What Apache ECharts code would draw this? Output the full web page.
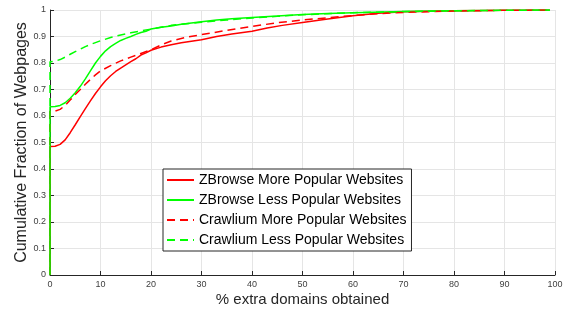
<!DOCTYPE html>
<html>
<head>
<meta charset="utf-8">
<script src="https://cdn.jsdelivr.net/npm/echarts@6/dist/echarts.min.js"></script>
<style>
  html, body { margin: 0; padding: 0; background: #fff; }
  #main { width: 566px; height: 312px; }
</style>
</head>
<body>
<div id="main"></div>
<script>
// names shown in legend
var seriesNames = [
    'ZBrowse More Popular Websites',
    'ZBrowse Less Popular Websites',
    'Crawlium More Popular Websites',
    'Crawlium Less Popular Websites'
];

// x positions (% extra domains) and CDF values
var zMoreX = [0, 0, 1, 2, 3, 4, 5, 6, 7, 8, 9, 10, 11, 12, 13, 14, 15, 16, 17, 18, 19, 20, 22, 24, 26, 28, 30, 33, 36, 40, 43, 46, 50, 55, 60, 65, 70, 75, 80, 90, 99];
var zMoreY = [0, 0.485, 0.486, 0.493, 0.51, 0.537, 0.567, 0.598, 0.628, 0.657, 0.685, 0.71, 0.733, 0.752, 0.768, 0.781, 0.793, 0.805, 0.816, 0.83, 0.838, 0.848, 0.86, 0.869, 0.876, 0.882, 0.888, 0.9, 0.909, 0.92, 0.932, 0.942, 0.953, 0.966, 0.978, 0.988, 0.993, 0.995, 0.997, 0.999, 1];

var zLessX = [0, 0, 1, 2, 3, 4, 5, 6, 7, 8, 9, 10, 11, 12, 13, 14, 15, 16, 17, 18, 19, 20, 22, 24, 26, 28, 30, 33, 36, 40, 45, 50, 55, 60, 70, 80, 90, 99];
var zLessY = [0, 0.635, 0.636, 0.64, 0.65, 0.667, 0.688, 0.712, 0.74, 0.77, 0.8, 0.825, 0.846, 0.862, 0.874, 0.885, 0.893, 0.9, 0.908, 0.915, 0.92, 0.928, 0.935, 0.94, 0.946, 0.951, 0.956, 0.962, 0.967, 0.972, 0.977, 0.983, 0.987, 0.99, 0.994, 0.997, 0.999, 1];

var cMoreX = [0, 0, 1, 2, 3, 4, 5, 6, 7, 8, 9, 10, 12, 14, 16, 18, 20, 22, 24, 27, 30, 35, 40, 45, 50, 55, 60, 65, 70, 80, 90, 99];
var cMoreY = [0, 0.617, 0.618, 0.625, 0.64, 0.66, 0.681, 0.7, 0.72, 0.738, 0.755, 0.77, 0.79, 0.808, 0.822, 0.836, 0.85, 0.868, 0.883, 0.897, 0.907, 0.923, 0.938, 0.952, 0.962, 0.971, 0.979, 0.986, 0.991, 0.996, 0.999, 1];

var cLessX = [0, 0, 1, 2, 3, 4, 5, 6, 7, 8, 9, 10, 12, 14, 16, 18, 20, 24, 28, 30, 35, 40, 45, 50, 55, 60, 70, 80, 90, 99];
var cLessY = [0, 0.805, 0.807, 0.813, 0.822, 0.833, 0.843, 0.852, 0.862, 0.87, 0.877, 0.884, 0.896, 0.906, 0.914, 0.921, 0.928, 0.942, 0.95, 0.954, 0.962, 0.97, 0.976, 0.982, 0.986, 0.99, 0.994, 0.997, 0.999, 1];

function pairs(xs, ys) {
    var out = [];
    for (let i = 0; i < xs.length; i++) {
        out.push([xs[i], ys[i]]);
    }
    return out;
}

function lineSeries(name, xs, ys, color, dashed) {
    return {
        name: name,
        type: 'line',
        data: pairs(xs, ys),
        symbol: 'none',
        showSymbol: false,
        animation: false,
        lineStyle: {
            color: color,
            width: 1.5,
            type: dashed ? [8, 5] : 'solid'
        },
        itemStyle: { color: color }
    };
}

function initEcharts() {
    var myChart = echarts.init(document.getElementById('main'));
    var font = 'Liberation Sans, Arial, Helvetica, sans-serif';

    var option = {
        backgroundColor: '#fff',
        grid: {
            left: 50,
            right: 11,
            top: 10,
            bottom: 37
        },
        legend: {
            orient: 'vertical',
            left: 163,
            top: 169,
            data: seriesNames,
            itemWidth: 27,
            itemHeight: 14,
            itemGap: 6,
            padding: [4, 5, 4, 3],
            backgroundColor: '#fff',
            borderColor: '#262626',
            borderWidth: 1,
            borderRadius: 0,
            itemStyle: { opacity: 0 },
            textStyle: {
                fontSize: 14,
                color: '#000',
                fontFamily: font
            }
        },
        xAxis: {
            type: 'value',
            min: 0,
            max: 100,
            interval: 10,
            name: '% extra domains obtained',
            nameLocation: 'middle',
            nameGap: 17,
            nameMoveOverlap: false,
            nameTextStyle: { fontSize: 15, color: '#262626', fontFamily: font },
            axisLine: { lineStyle: { color: '#262626', width: 1 } },
            axisTick: { inside: true, length: 4, lineStyle: { color: '#262626' } },
            axisLabel: { fontSize: 9, color: '#404040', margin: 5, fontFamily: font },
            splitLine: { show: true, lineStyle: { color: '#e5e5e5', width: 1 } }
        },
        yAxis: {
            type: 'value',
            min: 0,
            max: 1,
            interval: 0.1,
            name: 'Cumulative Fraction of Webpages',
            nameLocation: 'middle',
            nameGap: 20,
            nameMoveOverlap: false,
            nameTextStyle: { fontSize: 16, color: '#262626', fontFamily: font },
            axisLine: { show: true, lineStyle: { color: '#262626', width: 1 } },
            axisTick: { show: true, inside: true, length: 4, lineStyle: { color: '#262626' } },
            axisLabel: { fontSize: 9, color: '#404040', margin: 4, fontFamily: font },
            splitLine: { show: true, lineStyle: { color: '#e5e5e5', width: 1 } }
        },
        series: [
            lineSeries(seriesNames[0], zMoreX, zMoreY, '#ff0000', false),
            lineSeries(seriesNames[1], zLessX, zLessY, '#00ff00', false),
            lineSeries(seriesNames[2], cMoreX, cMoreY, '#ff0000', true),
            lineSeries(seriesNames[3], cLessX, cLessY, '#00ff00', true)
        ]
    };

    myChart.setOption(option);
}

initEcharts();
</script>
</body>
</html>
